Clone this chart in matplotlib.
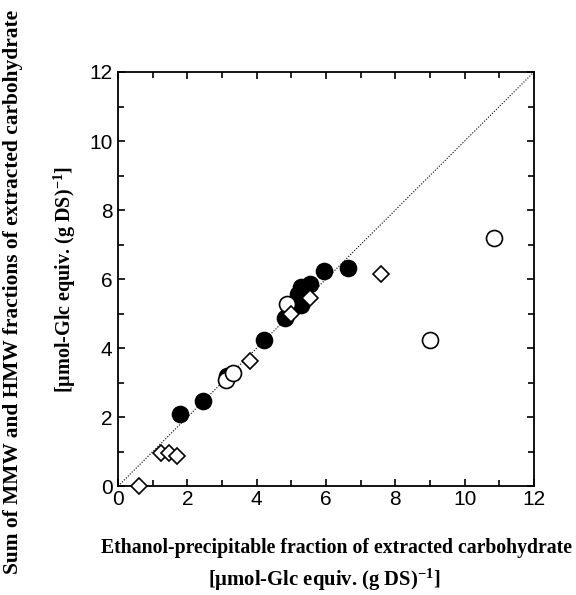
import numpy as np
import matplotlib
matplotlib.use('Agg')
import matplotlib.pyplot as plt
from matplotlib.ticker import MultipleLocator

# filled circles
filled_x = [1.8, 2.45, 3.15, 4.2, 4.82, 5.2, 5.29, 5.29, 5.53, 5.95, 6.64]
filled_y = [2.1, 2.47, 3.2, 4.23, 4.87, 5.57, 5.77, 5.25, 5.87, 6.23, 6.33]

# open circles
open_x = [3.1, 3.32, 4.87, 9.0, 10.85]
open_y = [3.07, 3.28, 5.27, 4.24, 7.2]

# open diamonds
diam_x = [0.6, 1.24, 1.47, 1.69, 3.8, 5.0, 5.53, 7.6]
diam_y = [0.0, 0.97, 0.97, 0.88, 3.62, 5.0, 5.44, 6.15]

xlab1 = 'Ethanol-precipitable fraction of extracted carbohydrate'
ylab1 = 'Sum of MMW and HMW fractions of extracted carbohydrate'
unit_lab = r'[µmol-Glc equiv. (g DS)$\mathregular{^{-1}}$]'


def serif(size):
    return {'family': 'Liberation Serif', 'weight': 'bold', 'size': size}


fig = plt.figure(figsize=(5.76, 5.95), dpi=100)
ax = fig.add_axes([0.205, 0.183, 0.722, 0.696])

ax.plot([0, 12], [0, 12], color='black', lw=0.8, ls=(0, (1, 1.5)), zorder=1)
ax.plot(filled_x, filled_y, 'o', ms=11.5, mfc='black', mec='black', mew=1.2, zorder=2, clip_on=False)
ax.plot(open_x, open_y, 'o', ms=11.5, mfc='white', mec='black', mew=1.2, zorder=3, clip_on=False)
ax.plot(diam_x, diam_y, 'D', ms=8.5, mfc='white', mec='black', mew=1.2, zorder=3, clip_on=False)

ax.set_xlim(0, 12)
ax.set_ylim(0, 12)
ax.xaxis.set_major_locator(MultipleLocator(2))
ax.yaxis.set_major_locator(MultipleLocator(2))
ax.xaxis.set_minor_locator(MultipleLocator(1))
ax.yaxis.set_minor_locator(MultipleLocator(1))
ax.tick_params(which='both', direction='in', top=True, right=True, width=1.2)
ax.tick_params(which='major', length=5)
ax.tick_params(which='minor', length=4)
ax.tick_params(axis='x', pad=3)
ax.tick_params(axis='y', pad=4)
for lab in ax.get_xticklabels() + ax.get_yticklabels():
    lab.set_fontfamily('Liberation Sans')
    lab.set_fontsize(15)
for s in ax.spines.values():
    s.set_linewidth(1.3)

fig.text(0.584, 1 - 548 / 595, xlab1, ha='center', va='center', fontdict=serif(14.25))
fig.text(0.563, 1 - 580 / 595, unit_lab, ha='center', va='center', fontdict=serif(14.9))
fig.text(13 / 576, 1 - 292 / 595, ylab1, ha='center', va='center', rotation=90, fontdict=serif(15.4))
fig.text(65 / 576, 1 - 280 / 595, unit_lab, ha='center', va='center', rotation=90, fontdict=serif(14.5))

fig.savefig('out.png', dpi=100)
